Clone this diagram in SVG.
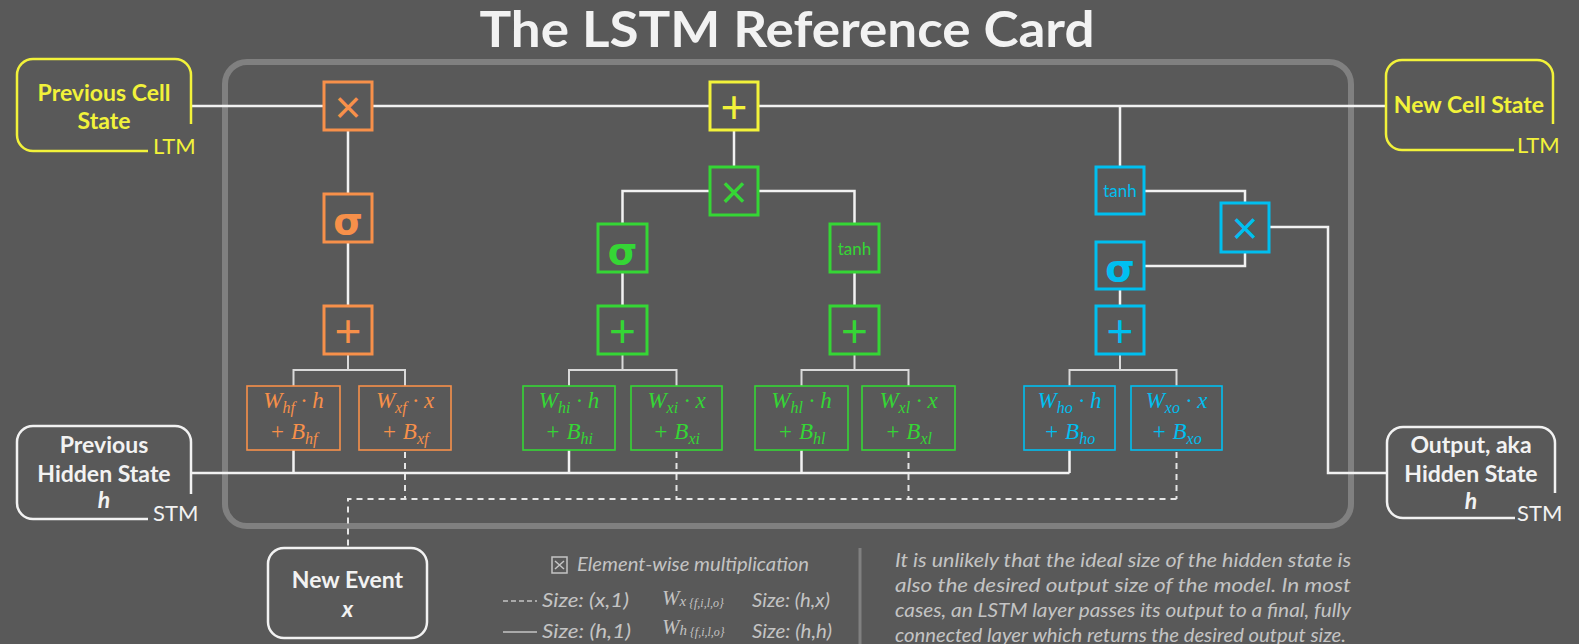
<svg xmlns="http://www.w3.org/2000/svg" width="1579" height="644" viewBox="0 0 1579 644">
<style>
.bg{fill:#595959}
.frame{fill:none;stroke:#808080;stroke-width:6}
.ln{fill:none;stroke:#f2f2f2;stroke-width:2.5}
.br{fill:none;stroke:#d9d9d9;stroke-width:2}
.da{fill:none;stroke:#e6e6e6;stroke-width:2;stroke-dasharray:6 5}
.op{fill:#595959;stroke-width:3}
.wb{fill:#595959;stroke-width:1.6}
.o{stroke:#f7904a}.g{stroke:#35d635}.b{stroke:#00bff0}.y{stroke:#f2f23a}
.fo{fill:#f7904a}.fg{fill:#35d635}.fb{fill:#00bff0}.fy{fill:#f2f23a}.fw{fill:#f2f2f2}
.sym{font-family:"Liberation Sans",Arial,sans-serif;font-size:46px;text-anchor:middle}
.sig{font-family:"DejaVu Sans",sans-serif;font-weight:bold;font-size:38px;text-anchor:middle}
.tanh{font-family:Lato,"Liberation Sans",sans-serif;font-size:17px;text-anchor:middle}
.wt{font-family:"Liberation Serif","DejaVu Serif",serif;font-style:italic;font-size:23px;text-anchor:middle}
.sub{font-size:16px}
.nt{font-family:Lato,"Liberation Sans",sans-serif;font-weight:bold;font-size:23px;text-anchor:middle}
.lab{font-family:Lato,"Liberation Sans",sans-serif;font-size:22px}
.nb{fill:none;stroke-width:2.5}
.leg{font-family:Lato,"Liberation Sans",sans-serif;font-style:italic;font-size:19px;fill:#c4c4c4}
.lw{font-family:"Liberation Serif","DejaVu Serif",serif;font-style:italic;font-size:21px;fill:#c4c4c4}
.par{font-family:Lato,"Liberation Sans",sans-serif;font-style:italic;font-size:19px;fill:#c4c4c4}
</style>
<rect class="bg" x="0" y="0" width="1579" height="644"/>
<text x="787" y="47" font-family="Lato, 'Liberation Sans', sans-serif" font-weight="bold" font-size="50" fill="#f2f2f2" text-anchor="middle" textLength="615" lengthAdjust="spacingAndGlyphs">The LSTM Reference Card</text>
<rect class="frame" x="225" y="62" width="1126" height="464" rx="22"/>

<g id="connectors">
<path class="ln" d="M191,106 H1386"/>
<path class="ln" d="M348,129 V194 M348,242 V306"/>
<path class="ln" d="M734,130 V167"/>
<path class="ln" d="M710,191 H622.5 V224 M758,191 H854.5 V224"/>
<path class="ln" d="M622.5,272 V306 M854.5,272 V306"/>
<path class="ln" d="M1120,106 V167 M1120,289 V306"/>
<path class="ln" d="M1144,191 H1245 V203 M1245,252 V266 H1144"/>
<path class="ln" d="M1269,227 H1328 V473 H1387"/>
<path class="br" d="M348,354 V370 M293.5,386 V370 H405 V386"/>
<path class="br" d="M622.5,354 V370 M569,386 V370 H676.5 V386"/>
<path class="br" d="M854.5,354 V370 M801.5,386 V370 H908.5 V386"/>
<path class="br" d="M1120,354 V370 M1069.5,386 V370 H1176.5 V386"/>
<path class="ln" d="M191,473 H1069.5 M293.5,450 V473 M569,450 V473 M801.5,450 V473 M1069.5,450 V473"/>
<path class="da" d="M405,452 V499 M676.5,452 V499 M908.5,452 V499 M1176.5,452 V499 M1176.5,499 H348 V548"/>
</g>

<g id="prev-cell-state">
<path class="nb y" d="M191,124 V75 A16,16 0 0 0 175,59 H33 A16,16 0 0 0 17,75 V135 A16,16 0 0 0 33,151 H148"/>
<text class="nt fy" x="104" y="101">Previous Cell</text>
<text class="nt fy" x="104" y="129">State</text>
<text class="lab fy" x="153" y="154">LTM</text>
</g>
<g id="prev-hidden-state">
<path class="nb" stroke="#f2f2f2" d="M191,494 V442 A16,16 0 0 0 175,426 H33 A16,16 0 0 0 17,442 V503 A16,16 0 0 0 33,519 H148"/>
<text class="nt fw" x="104" y="453">Previous</text>
<text class="nt fw" x="104" y="482">Hidden State</text>
<text class="nt fw" x="104" y="508" font-style="italic">h</text>
<text class="lab fw" x="153" y="521">STM</text>
</g>
<g id="new-cell-state">
<path class="nb y" d="M1553,124 V76 A16,16 0 0 0 1537,60 H1402 A16,16 0 0 0 1386,76 V134 A16,16 0 0 0 1402,150 H1514"/>
<text class="nt fy" x="1469" y="113">New Cell State</text>
<text class="lab fy" x="1517" y="153">LTM</text>
</g>
<g id="output-hidden-state">
<path class="nb" stroke="#f2f2f2" d="M1555,493 V443 A16,16 0 0 0 1539,427 H1403 A16,16 0 0 0 1387,443 V502 A16,16 0 0 0 1403,518 H1515"/>
<text class="nt fw" x="1471" y="453">Output, aka</text>
<text class="nt fw" x="1471" y="482">Hidden State</text>
<text class="nt fw" x="1471" y="509" font-style="italic">h</text>
<text class="lab fw" x="1517" y="521">STM</text>
</g>
<g id="new-event">
<rect class="nb" stroke="#f2f2f2" x="268" y="548" width="159" height="90" rx="16"/>
<text class="nt fw" x="347.5" y="588">New Event</text>
<text class="nt fw" x="347.5" y="617" font-style="italic">x</text>
</g>

<g id="forget-mult"><rect class="op o" x="324" y="82" width="48" height="48"/><text class="sym fo" x="348" y="123">×</text></g>
<g id="forget-sigma"><rect class="op o" x="324" y="194" width="48" height="48"/><text class="sig fo" x="348" y="234">σ</text></g>
<g id="forget-add"><rect class="op o" x="324" y="306" width="48" height="48"/><text class="sym fo" x="348" y="347">+</text></g>
<g id="forget-wh"><rect class="wb o" x="247" y="386" width="93" height="64"/>
<text class="wt fo" x="293.5" y="408">W<tspan class="sub" dy="5">hf</tspan><tspan dy="-5"> · h</tspan></text>
<text class="wt fo" x="293.5" y="439">+ B<tspan class="sub" dy="5">hf</tspan></text></g>
<g id="forget-wx"><rect class="wb o" x="359" y="386" width="92" height="64"/>
<text class="wt fo" x="405" y="408">W<tspan class="sub" dy="5">xf</tspan><tspan dy="-5"> · x</tspan></text>
<text class="wt fo" x="405" y="439">+ B<tspan class="sub" dy="5">xf</tspan></text></g>

<g id="cell-add"><rect class="op y" x="710" y="82" width="48" height="48"/><text class="sym fy" x="734" y="123">+</text></g>
<g id="input-mult"><rect class="op g" x="710" y="167" width="48" height="48"/><text class="sym fg" x="734" y="208">×</text></g>
<g id="input-sigma"><rect class="op g" x="598" y="224" width="49" height="48"/><text class="sig fg" x="622.5" y="264">σ</text></g>
<g id="input-tanh"><rect class="op g" x="830" y="224" width="49" height="48"/><text class="tanh fg" x="854.5" y="255">tanh</text></g>
<g id="input-add-l"><rect class="op g" x="598" y="306" width="49" height="48"/><text class="sym fg" x="622.5" y="347">+</text></g>
<g id="input-add-r"><rect class="op g" x="830" y="306" width="49" height="48"/><text class="sym fg" x="854.5" y="347">+</text></g>
<g id="input-whi"><rect class="wb g" x="523" y="386" width="92" height="64"/>
<text class="wt fg" x="569" y="408">W<tspan class="sub" dy="5">hi</tspan><tspan dy="-5"> · h</tspan></text>
<text class="wt fg" x="569" y="439">+ B<tspan class="sub" dy="5">hi</tspan></text></g>
<g id="input-wxi"><rect class="wb g" x="631" y="386" width="91" height="64"/>
<text class="wt fg" x="676.5" y="408">W<tspan class="sub" dy="5">xi</tspan><tspan dy="-5"> · x</tspan></text>
<text class="wt fg" x="676.5" y="439">+ B<tspan class="sub" dy="5">xi</tspan></text></g>
<g id="input-whl"><rect class="wb g" x="755" y="386" width="93" height="64"/>
<text class="wt fg" x="801.5" y="408">W<tspan class="sub" dy="5">hl</tspan><tspan dy="-5"> · h</tspan></text>
<text class="wt fg" x="801.5" y="439">+ B<tspan class="sub" dy="5">hl</tspan></text></g>
<g id="input-wxl"><rect class="wb g" x="862" y="386" width="93" height="64"/>
<text class="wt fg" x="908.5" y="408">W<tspan class="sub" dy="5">xl</tspan><tspan dy="-5"> · x</tspan></text>
<text class="wt fg" x="908.5" y="439">+ B<tspan class="sub" dy="5">xl</tspan></text></g>

<g id="output-tanh"><rect class="op b" x="1096" y="167" width="48" height="47"/><text class="tanh fb" x="1120" y="197">tanh</text></g>
<g id="output-mult"><rect class="op b" x="1221" y="203" width="48" height="49"/><text class="sym fb" x="1245" y="244">×</text></g>
<g id="output-sigma"><rect class="op b" x="1096" y="242" width="48" height="47"/><text class="sig fb" x="1120" y="281">σ</text></g>
<g id="output-add"><rect class="op b" x="1096" y="306" width="48" height="48"/><text class="sym fb" x="1120" y="347">+</text></g>
<g id="output-who"><rect class="wb b" x="1024" y="386" width="91" height="64"/>
<text class="wt fb" x="1069.5" y="408">W<tspan class="sub" dy="5">ho</tspan><tspan dy="-5"> · h</tspan></text>
<text class="wt fb" x="1069.5" y="439">+ B<tspan class="sub" dy="5">ho</tspan></text></g>
<g id="output-wxo"><rect class="wb b" x="1131" y="386" width="91" height="64"/>
<text class="wt fb" x="1176.5" y="408">W<tspan class="sub" dy="5">xo</tspan><tspan dy="-5"> · x</tspan></text>
<text class="wt fb" x="1176.5" y="439">+ B<tspan class="sub" dy="5">xo</tspan></text></g>

<g id="legend">
<rect x="552" y="557" width="15" height="16" fill="none" stroke="#c4c4c4" stroke-width="1.5"/>
<path d="M555,561 L564,569 M564,561 L555,569" stroke="#c4c4c4" stroke-width="1.5"/>
<text class="leg" x="577" y="571" textLength="232" lengthAdjust="spacingAndGlyphs">Element-wise multiplication</text>
<path d="M503,601 H537" stroke="#c4c4c4" stroke-width="1.5" stroke-dasharray="5 3"/>
<text class="leg" x="542" y="607" textLength="87" lengthAdjust="spacingAndGlyphs">Size: (x,1)</text>
<text class="lw" x="662" y="605">W<tspan font-size="15" dy="1">x</tspan><tspan font-size="12" dx="3" dy="1">{f,i,l,o}</tspan></text>
<text class="leg" x="752" y="607" textLength="78" lengthAdjust="spacingAndGlyphs">Size: (h,x)</text>
<path d="M503,632 H537" stroke="#c4c4c4" stroke-width="1.5"/>
<text class="leg" x="542" y="638" textLength="89" lengthAdjust="spacingAndGlyphs">Size: (h,1)</text>
<text class="lw" x="662" y="634">W<tspan font-size="15" dy="1">h</tspan><tspan font-size="12" dx="3" dy="1">{f,i,l,o}</tspan></text>
<text class="leg" x="752" y="638" textLength="80" lengthAdjust="spacingAndGlyphs">Size: (h,h)</text>
</g>
<g id="note">
<path d="M860,548 V644" stroke="#808080" stroke-width="3"/>
<text class="par" x="895" y="567" textLength="456" lengthAdjust="spacingAndGlyphs">It is unlikely that the ideal size of the hidden state is</text>
<text class="par" x="895" y="592" textLength="456" lengthAdjust="spacingAndGlyphs">also the desired output size of the model. In most</text>
<text class="par" x="895" y="617" textLength="456" lengthAdjust="spacingAndGlyphs">cases, an LSTM layer passes its output to a final, fully</text>
<text class="par" x="895" y="642" textLength="451" lengthAdjust="spacingAndGlyphs">connected layer which returns the desired output size.</text>
</g>
</svg>
